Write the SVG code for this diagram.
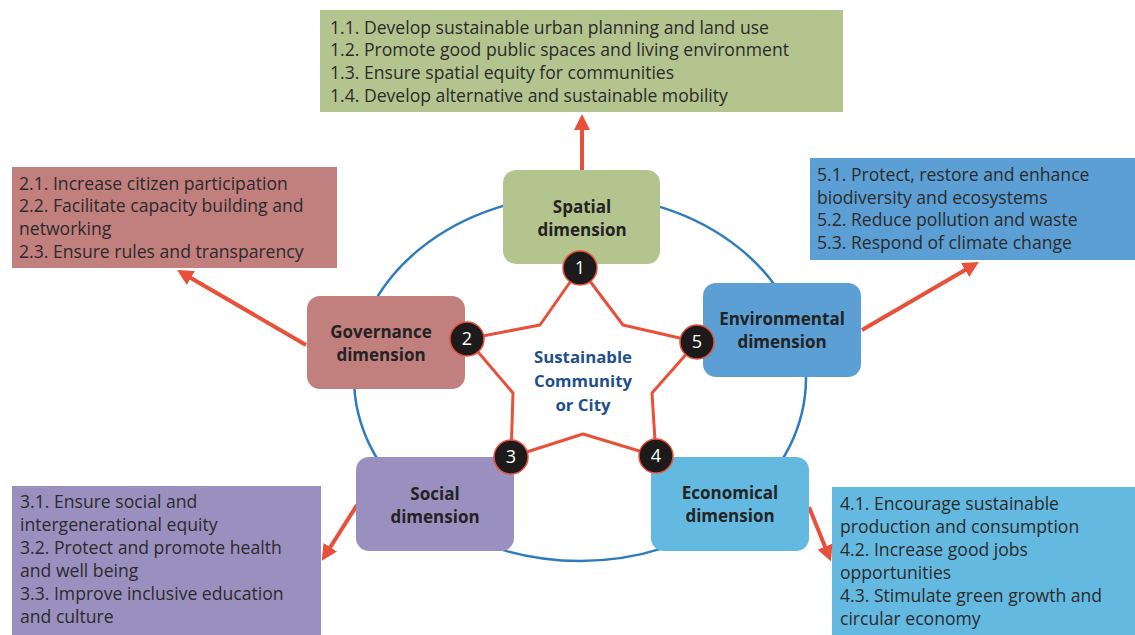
<svg xmlns="http://www.w3.org/2000/svg" width="1135" height="635" viewBox="0 0 1135 635">
  <defs>
    <marker id="head" viewBox="0 0 10 10" refX="5" refY="5" markerWidth="4" markerHeight="4" orient="auto-start-reverse" markerUnits="strokeWidth">
      <path d="M0,0 L10,5 L0,10 Z" fill="#e8503a"/>
    </marker>
    <style>
      .goal { font-family: "Open Sans", "Noto Sans", sans-serif; font-size: 17.6px; fill: #2b2b2b; }
      .dim { font-family: "Open Sans", "Noto Sans", sans-serif; font-size: 17px; font-weight: 700; fill: #232323; text-anchor: middle; }
      .num { font-family: "Open Sans", "Noto Sans", sans-serif; font-size: 18px; fill: #ffffff; text-anchor: middle; }
      .core { font-family: "Open Sans", "Noto Sans", sans-serif; font-size: 16.8px; font-weight: 700; fill: #1f4f8e; text-anchor: middle; }
      .arrow { stroke: #e8503a; stroke-width: 4; fill: none; marker-end: url(#head); }
      .badge { fill: #1c1a1a; stroke: #e8503a; stroke-width: 1.5; }
      .green { fill: #b4c48f; }
      .rose { fill: #c17f7e; }
      .blue { fill: #5c9fd4; }
      .violet { fill: #9a90c0; }
      .sky { fill: #64b9e0; }
    </style>
  </defs>

  <rect width="1135" height="635" fill="#ffffff"/>

  <!-- outer ring -->
  <ellipse cx="580" cy="378" rx="226" ry="183" fill="none" stroke="#2f7bbf" stroke-width="2.5"/>

  <!-- goal lists -->
  <g id="goals-spatial">
    <rect class="green" x="320" y="10" width="523" height="102"/>
    <text class="goal" x="330" y="34">1.1. Develop sustainable urban planning and land use</text>
    <text class="goal" x="330" y="56">1.2. Promote good public spaces and living environment</text>
    <text class="goal" x="330" y="79">1.3. Ensure spatial equity for communities</text>
    <text class="goal" x="330" y="102">1.4. Develop alternative and sustainable mobility</text>
  </g>
  <g id="goals-governance">
    <rect class="rose" x="12" y="167" width="325" height="101"/>
    <text class="goal" x="19" y="190">2.1. Increase citizen participation</text>
    <text class="goal" x="19" y="212">2.2. Facilitate capacity building and</text>
    <text class="goal" x="19" y="235">networking</text>
    <text class="goal" x="19" y="258">2.3. Ensure rules and transparency</text>
  </g>
  <g id="goals-environmental">
    <rect class="blue" x="810" y="158" width="325" height="102"/>
    <text class="goal" x="817" y="181">5.1. Protect, restore and enhance</text>
    <text class="goal" x="817" y="204">biodiversity and ecosystems</text>
    <text class="goal" x="817" y="226">5.2. Reduce pollution and waste</text>
    <text class="goal" x="817" y="249">5.3. Respond of climate change</text>
  </g>
  <g id="goals-social">
    <rect class="violet" x="12" y="486" width="309" height="149"/>
    <text class="goal" x="20" y="508">3.1. Ensure social and</text>
    <text class="goal" x="20" y="531">intergenerational equity</text>
    <text class="goal" x="20" y="554">3.2. Protect and promote health</text>
    <text class="goal" x="20" y="577">and well being</text>
    <text class="goal" x="20" y="600">3.3. Improve inclusive education</text>
    <text class="goal" x="20" y="623">and culture</text>
  </g>
  <g id="goals-economical">
    <rect class="sky" x="832" y="487" width="303" height="148"/>
    <text class="goal" x="840" y="510">4.1. Encourage sustainable</text>
    <text class="goal" x="840" y="533">production and consumption</text>
    <text class="goal" x="840" y="556">4.2. Increase good jobs</text>
    <text class="goal" x="840" y="579">opportunities</text>
    <text class="goal" x="840" y="602">4.3. Stimulate green growth and</text>
    <text class="goal" x="840" y="625">circular economy</text>
  </g>

  <!-- connectors from each dimension to its goals -->
  <g id="connectors">
    <line class="arrow" x1="582" y1="170" x2="582" y2="122"/>
    <line class="arrow" x1="306" y1="345" x2="184" y2="274"/>
    <line class="arrow" x1="862" y1="330" x2="972" y2="266"/>
    <line class="arrow" x1="357" y1="505" x2="326" y2="554"/>
    <line class="arrow" x1="809" y1="507" x2="828" y2="554"/>
  </g>

  <!-- dimensions -->
  <g id="dim-spatial">
    <rect class="green" x="503" y="170" width="157" height="94" rx="13"/>
    <text class="dim" x="582" y="213">Spatial</text>
    <text class="dim" x="582" y="236">dimension</text>
  </g>
  <g id="dim-governance">
    <rect class="rose" x="307" y="296" width="158" height="93" rx="13"/>
    <text class="dim" x="381" y="338">Governance</text>
    <text class="dim" x="381" y="361">dimension</text>
  </g>
  <g id="dim-environmental">
    <rect class="blue" x="703" y="283" width="158" height="94" rx="13"/>
    <text class="dim" x="782" y="325">Environmental</text>
    <text class="dim" x="782" y="348">dimension</text>
  </g>
  <g id="dim-social">
    <rect class="violet" x="356" y="457" width="158" height="94" rx="13"/>
    <text class="dim" x="435" y="500">Social</text>
    <text class="dim" x="435" y="523">dimension</text>
  </g>
  <g id="dim-economical">
    <rect class="sky" x="651" y="457" width="158" height="94" rx="13"/>
    <text class="dim" x="730" y="499">Economical</text>
    <text class="dim" x="730" y="522">dimension</text>
  </g>

  <!-- central star -->
  <g id="core">
    <polygon points="580,268 623,325 697,342 652,393 656,456 583,434 511,457 513,393 467,339 540,325" fill="#ffffff" stroke="#e8503a" stroke-width="3" stroke-linejoin="round"/>
    <text class="core" x="583" y="363">Sustainable</text>
    <text class="core" x="583" y="387">Community</text>
    <text class="core" x="583" y="411">or City</text>
  </g>

  <!-- numbered badges -->
  <g id="badge-1"><circle class="badge" cx="580" cy="268" r="17"/><text class="num" x="580" y="274">1</text></g>
  <g id="badge-2"><circle class="badge" cx="467" cy="339" r="17"/><text class="num" x="467" y="345">2</text></g>
  <g id="badge-3"><circle class="badge" cx="511" cy="457" r="17"/><text class="num" x="511" y="463">3</text></g>
  <g id="badge-4"><circle class="badge" cx="656" cy="456" r="17"/><text class="num" x="656" y="462">4</text></g>
  <g id="badge-5"><circle class="badge" cx="697" cy="342" r="17"/><text class="num" x="697" y="348">5</text></g>
</svg>
